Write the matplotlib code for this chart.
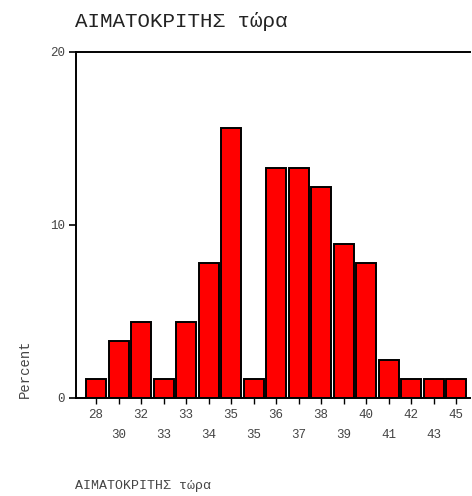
import matplotlib
matplotlib.use("Agg")
import matplotlib.pyplot as plt
import numpy as np

# Haematocrit values (bar labels) and percent of cases
labels = ["28", "30", "32", "33", "33", "34", "35", "35", "36",
          "37", "38", "39", "40", "41", "42", "43", "45"]
percent = [1.1, 3.3, 4.4, 1.1, 4.4, 7.8, 15.6, 1.1, 13.3,
           13.3, 12.2, 8.9, 7.8, 2.2, 1.1, 1.1, 1.1]

plt.rcParams["font.family"] = ["Liberation Mono", "DejaVu Sans Mono"]

fig = plt.figure(figsize=(4.72, 4.96), dpi=100)
ax = fig.add_axes([0.161, 0.1976, 0.835, 0.6976])

x = np.arange(len(labels))
ax.bar(x, percent, width=0.89, color="#ff0000", edgecolor="black", linewidth=1.4)

ax.set_xlim(-0.89, 16.62)
ax.set_ylim(0, 20)
ax.set_yticks([0, 10, 20])
ax.tick_params(axis="y", length=5, width=1.2, labelsize=9, labelcolor="#444444", pad=3)

# staggered x labels: even bars on the top row, odd bars on the lower row
ax.set_xticks(x[::2])
ax.set_xticklabels(labels[::2])
ax.set_xticks(x[1::2], minor=True)
ax.set_xticklabels(labels[1::2], minor=True)
ax.tick_params(axis="x", which="major", length=4, width=1.0, labelsize=9, labelcolor="#444444", pad=4)
ax.tick_params(axis="x", which="minor", length=4, width=1.0, labelsize=9, labelcolor="#444444", pad=18)

for side in ["left", "bottom", "top"]:
    ax.spines[side].set_linewidth(1.4)
ax.spines["right"].set_visible(False)

fig.text(0.159, 0.938, "ΑΙΜΑΤΟΚΡΙΤΗΣ τώρα", fontsize=15, color="#222222", va="bottom")
fig.text(0.053, 0.197, "Percent", fontsize=10, color="#444444", rotation=90, ha="center", va="bottom")
fig.text(0.159, 0.008, "ΑΙΜΑΤΟΚΡΙΤΗΣ τώρα", fontsize=9.5, color="#444444", va="bottom")

fig.savefig("out.png", dpi=100)
